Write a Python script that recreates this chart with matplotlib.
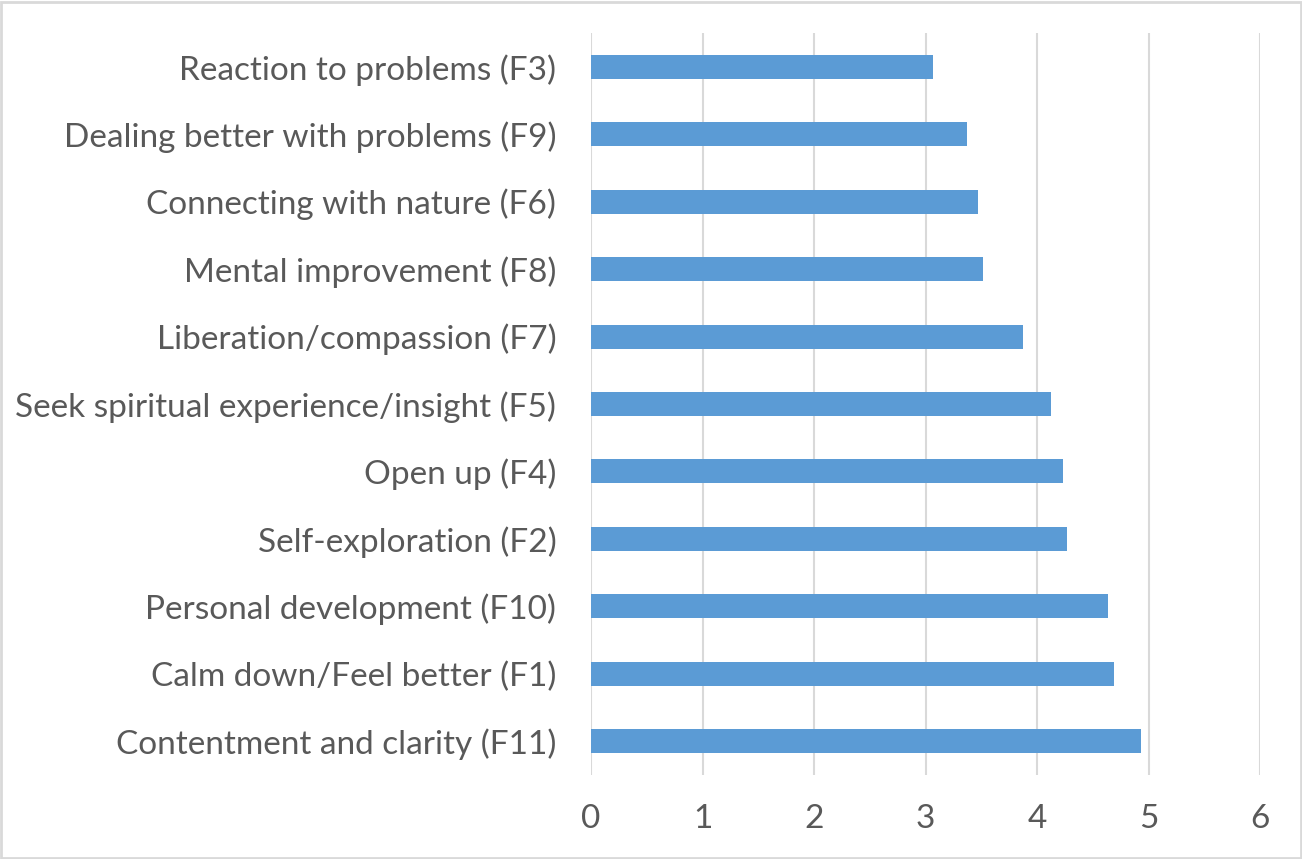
import numpy as np
import matplotlib.pyplot as plt
from matplotlib.patches import Rectangle

# categories top to bottom
labels = ['Reaction to problems (F3)', 'Dealing better with problems (F9)',
          'Connecting with nature (F6)', 'Mental improvement (F8)',
          'Liberation/compassion (F7)', 'Seek spiritual experience/insight (F5)',
          'Open up (F4)', 'Self-exploration (F2)', 'Personal development (F10)',
          'Calm down/Feel better (F1)', 'Contentment and clarity (F11)']
values = [3.07, 3.375, 3.47, 3.52, 3.87, 4.13, 4.23, 4.27, 4.64, 4.69, 4.93]
xticks = [0, 1, 2, 3, 4, 5, 6]

plt.rcParams['font.family'] = ['Lato', 'DejaVu Sans']
txt = '#595959'

f = plt.figure(figsize=(13.02, 8.59), dpi=100)
ax = f.add_axes([591/1302, 1-775/859, (1260-591)/1302, (775-33)/859])

y = np.arange(len(labels))
ax.barh(y, values, height=0.355, color='#5B9BD5', zorder=3)
ax.set_ylim(len(labels)-0.5, -0.5)
ax.set_xlim(0, 6)
ax.set_xticks(xticks)
ax.set_yticks(y)
ax.set_yticklabels(labels)
ax.grid(axis='x', color='#d9d9d9', linewidth=1.5, zorder=0)
for s in ax.spines.values():
    s.set_visible(False)
ax.tick_params(axis='both', length=0, labelsize=24, colors=txt)
ax.tick_params(axis='y', pad=25)
ax.tick_params(axis='x', pad=21)

# light border round the whole figure
f.patches.append(Rectangle((0.001, 0.001), 0.998, 0.997, transform=f.transFigure,
                           fill=False, edgecolor='#d9d9d9', linewidth=2))

f.savefig('out.png', dpi=100)
